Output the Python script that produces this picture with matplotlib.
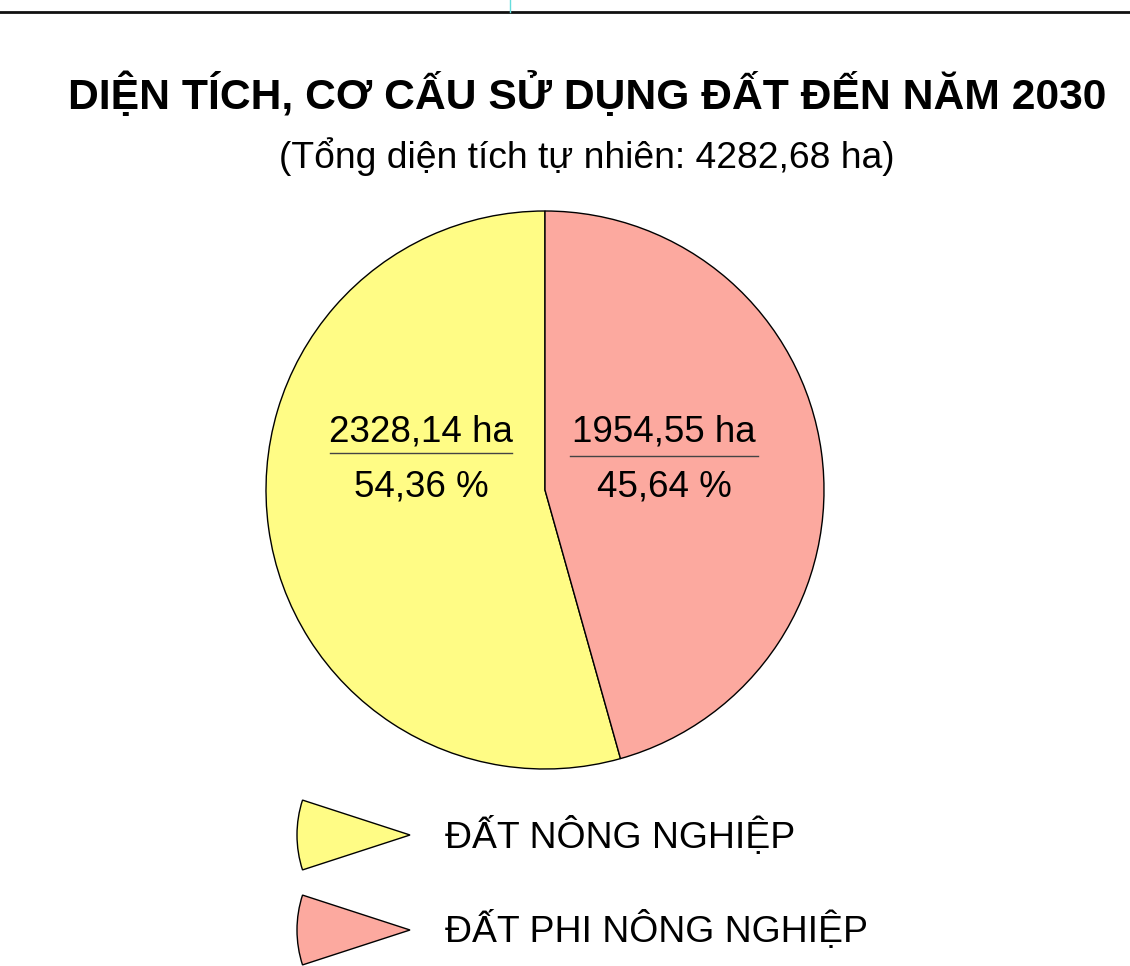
import matplotlib
matplotlib.use("Agg")
import matplotlib.pyplot as plt
from matplotlib.patches import Wedge

categories = ["ĐẤT NÔNG NGHIỆP", "ĐẤT PHI NÔNG NGHIỆP"]
areas_ha = [2328.14, 1954.55]
percents = [54.36, 45.64]
total_ha = 4282.68
title = "DIỆN TÍCH, CƠ CẤU SỬ DỤNG ĐẤT ĐẾN NĂM 2030"
colors = ["#FFFC85", "#FCA99F"]

W, H = 1130, 966
plt.rcParams['font.family'] = ['Liberation Sans', 'DejaVu Sans']
fig = plt.figure(figsize=(W / 100, H / 100), dpi=100)
ax = fig.add_axes([0, 0, 1, 1])

def Y(y):
    return H - y

def fmt(v):
    return f"{v:.2f}".replace(".", ",")

ax.pie(areas_ha, colors=colors, startangle=90, counterclock=True,
       center=(545, Y(490)), radius=279,
       wedgeprops=dict(edgecolor="black", linewidth=1.0))
ax.set_xlim(0, W)
ax.set_ylim(0, H)
ax.set_aspect("auto")
ax.axis("off")

# top frame line
ax.plot([0, W], [Y(12), Y(12)], color="#111111", lw=2)
ax.plot([510, 510], [Y(0), Y(12)], color="#66dddd", lw=1)

ax.text(587, Y(95), title, ha="center", va="center", fontsize=30.7, fontweight="bold")
ax.text(587, Y(157), f"(Tổng diện tích tự nhiên: {fmt(total_ha)} ha)",
        ha="center", va="center", fontsize=26.8)

label_pos = [(421, 432, 487, 330, 512, 453), (664, 432, 487, 570, 758, 456)]
for (cx, y1, y2, lx0, lx1, ly), a, p in zip(label_pos, areas_ha, percents):
    ax.text(cx, Y(y1), f"{fmt(a)} ha", ha="center", va="center", fontsize=26.5)
    ax.plot([lx0, lx1], [Y(ly), Y(ly)], color="#444444", lw=1)
    ax.text(cx, Y(y2), f"{fmt(p)} %", ha="center", va="center", fontsize=26.5)

for i, (cat, col) in enumerate(zip(categories, colors)):
    yc = 835 + i * 95
    ax.add_patch(Wedge((410, Y(yc)), 113, 162, 198, facecolor=col,
                       edgecolor="black", lw=1.0))
    ax.text(445, Y(yc + 1), cat, ha="left", va="center", fontsize=26.9)

fig.savefig("out.png", dpi=100)
